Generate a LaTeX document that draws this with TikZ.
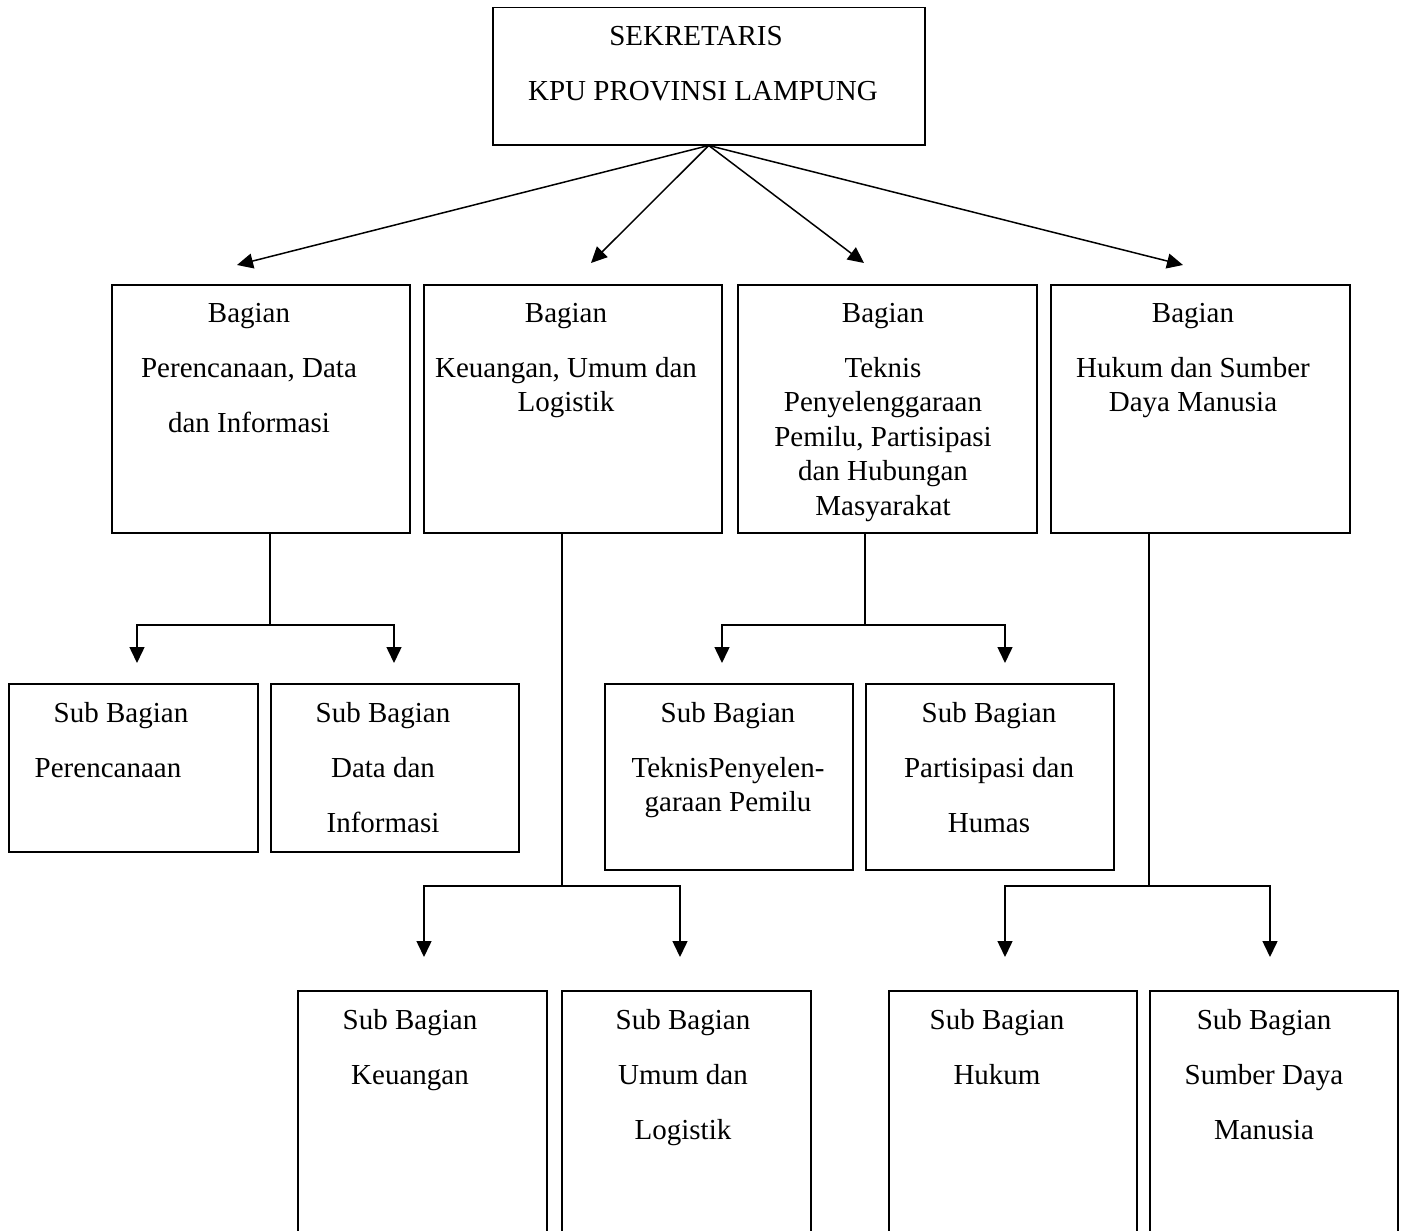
\documentclass[tikz,border=0pt]{standalone}
\usepackage{fontspec}
\setmainfont{Liberation Serif}
\usetikzlibrary{arrows.meta}
\begin{document}
\begin{tikzpicture}[x=1pt,y=-1pt,
  box/.style={draw,line width=1.5pt,inner sep=0pt,anchor=north west},
  txt/.style={inner sep=0pt,anchor=north,align=center,font=\fontsize{29}{34.5}\selectfont},
  conn/.style={line width=1.5pt},
  arr/.style={line width=1.5pt,-{Triangle[length=16pt,width=15pt]}}]
\clip (0,0) rectangle (1401,1231);
% boxes
\node[box,minimum width=432pt,minimum height=137pt] (top) at (492,7) {};
\node[box,minimum width=298pt,minimum height=248pt] (b1) at (111,284) {};
\node[box,minimum width=298pt,minimum height=248pt] (b2) at (423,284) {};
\node[box,minimum width=299pt,minimum height=248pt] (b3) at (737,284) {};
\node[box,minimum width=299pt,minimum height=248pt] (b4) at (1050,284) {};
\node[box,minimum width=249pt,minimum height=168pt] (s1) at (8,683) {};
\node[box,minimum width=248pt,minimum height=168pt] (s2) at (270,683) {};
\node[box,minimum width=248pt,minimum height=186pt] (s3) at (604,683) {};
\node[box,minimum width=248pt,minimum height=186pt] (s4) at (865,683) {};
\node[box,minimum width=249pt,minimum height=270pt] (k1) at (297,990) {};
\node[box,minimum width=249pt,minimum height=270pt] (k2) at (561,990) {};
\node[box,minimum width=248pt,minimum height=270pt] (h1) at (888,990) {};
\node[box,minimum width=248pt,minimum height=270pt] (h2) at (1149,990) {};
% texts
\node[txt] (toptxt) at (703,26) {\hspace*{-14pt}SEKRETARIS\\[20.5pt]KPU PROVINSI LAMPUNG};
\node[txt] (b1txt) at (249,303) {Bagian\\[20.5pt]Perencanaan, Data\\[20.5pt]dan Informasi};
\node[txt] (b2txt) at (566,303) {Bagian\\[20.5pt]Keuangan, Umum dan\\Logistik};
\node[txt] (b3txt) at (883,303) {Bagian\\[20.5pt]Teknis\\Penyelenggaraan\\Pemilu, Partisipasi\\dan Hubungan\\Masyarakat};
\node[txt] (b4txt) at (1193,303) {Bagian\\[20.5pt]Hukum dan Sumber\\Daya Manusia};
\node[txt] (s1txt) at (115,702) {\hspace*{12pt}Sub Bagian\\[20.5pt]\hspace*{-14pt}Perencanaan};
\node[txt] (s2txt) at (383,702) {Sub Bagian\\[20.5pt]Data dan\\[20.5pt]Informasi};
\node[txt] (s3txt) at (728,702) {Sub Bagian\\[20.5pt]TeknisPenyelen-\\garaan Pemilu};
\node[txt] (s4txt) at (989,702) {Sub Bagian\\[20.5pt]Partisipasi dan\\[20.5pt]Humas};
\node[txt] (k1txt) at (410,1009) {Sub Bagian\\[20.5pt]Keuangan};
\node[txt] (k2txt) at (683,1009) {Sub Bagian\\[20.5pt]Umum dan\\[20.5pt]Logistik};
\node[txt] (h1txt) at (997,1009) {Sub Bagian\\[20.5pt]Hukum};
\node[txt] (h2txt) at (1264,1009) {Sub Bagian\\[20.5pt]Sumber Daya\\[20.5pt]Manusia};
% connector points
\coordinate (t1) at (237,265);
\coordinate (t2) at (591,263);
\coordinate (t3) at (864,263);
\coordinate (t4) at (1183,265);
\coordinate (j1) at (270,625);
\coordinate (a11) at (137,663);
\coordinate (a12) at (394,663);
\coordinate (j3) at (865,625);
\coordinate (a31) at (722,663);
\coordinate (a32) at (1005,663);
\coordinate (j2) at (562,886);
\coordinate (a21) at (424,957);
\coordinate (a22) at (680,957);
\coordinate (j4) at (1149,886);
\coordinate (a41) at (1005,957);
\coordinate (a42) at (1270,957);
% connectors
\draw[arr] (top.south) -- (t1);
\draw[arr] (top.south) -- (t2);
\draw[arr] (top.south) -- (t3);
\draw[arr] (top.south) -- (t4);
\draw[conn] (j1 |- b1.south) -- (j1);
\draw[arr] (j1) -| (a11);
\draw[arr] (j1) -| (a12);
\draw[conn] (j3 |- b3.south) -- (j3);
\draw[arr] (j3) -| (a31);
\draw[arr] (j3) -| (a32);
\draw[conn] (j2 |- b2.south) -- (j2);
\draw[arr] (j2) -| (a21);
\draw[arr] (j2) -| (a22);
\draw[conn] (j4 |- b4.south) -- (j4);
\draw[arr] (j4) -| (a41);
\draw[arr] (j4) -| (a42);
\end{tikzpicture}
\end{document}
